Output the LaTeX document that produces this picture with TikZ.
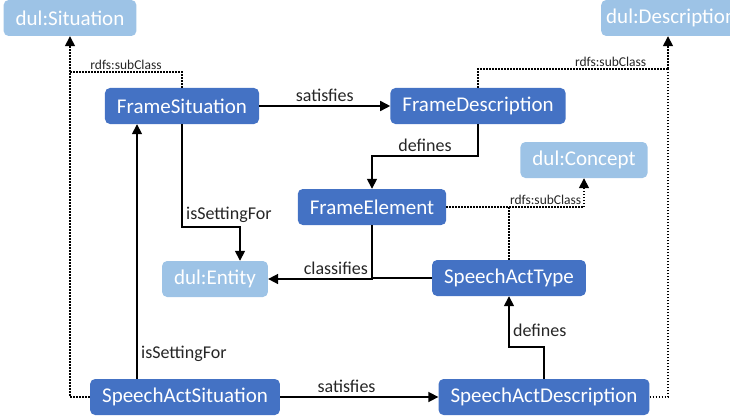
\documentclass[tikz,border=0pt]{standalone}
\usepackage{fontspec}
\setmainfont{Carlito}
\usetikzlibrary{arrows.meta,positioning}
\definecolor{frameblue}{HTML}{4472C4}
\definecolor{dulblue}{HTML}{9DC3E6}

\begin{document}
\begin{tikzpicture}[x=1pt,y=-1pt,on grid,
  cls/.style={rectangle,rounded corners=5pt,fill=frameblue,text=white,
    minimum height=36pt,inner xsep=12pt,font=\fontsize{21}{25}\selectfont},
  dul/.style={cls,fill=dulblue},
  rel/.style={draw,line width=1.6pt,-{Triangle[width=10pt,length=10pt]}},
  sub/.style={draw,line width=1.5pt,dash pattern=on 1.5pt off 1.5pt},
  subarr/.style={sub,-{Triangle[width=10pt,length=10pt]}},
  lbl/.style={font=\fontsize{18}{21}\selectfont,text=black!85},
  sublbl/.style={font=\fontsize{13.5}{16}\selectfont,text=black!85,inner sep=2pt}]
  \useasboundingbox (0,0) rectangle (730,417);
  \clip (0,0) rectangle (730,417);

  % classes
  \node[dul] (sit)  at (70,18)  {dul:Situation};
  \node[dul,anchor=west,inner xsep=5pt] (desc) at (601,18) {dul:Description};
  \node[dul] (con)  at (584,160) {dul:Concept};
  \node[dul] (ent)  at (215,279) {dul:Entity};
  \node[cls] (fs)   at (182,106) {FrameSituation};
  \node[cls] (fd)   [right=296pt of fs] {FrameDescription};
  \node[cls] (fe)   at (372,207) {FrameElement};
  \node[cls] (sat)  at (509,278) {SpeechActType};
  \node[cls] (sas)  at (185,397) {SpeechActSituation};
  \node[cls] (sad)  [right=359pt of sas] {SpeechActDescription};

  % junctions of the subclass lines
  \coordinate (jsit)  at (70,72);
  \coordinate (jdesc) at (668,69);
  \coordinate (jcon)  at (con.south |- fe.east);

  % relations
  \path[rel] (fs) -- node[lbl,midway,above] {satisfies} (fd);
  \path[rel] (fd.south) -- ++(0,32) -| node[lbl,pos=0.25,above] {defines} (fe.north);
  \path[rel] (fs.south) -- ++(0,103) -| node[lbl,pos=0,above right] {isSettingFor} ([xshift=25pt]ent.north);
  \path[rel] (fe.south) |- node[lbl,pos=0.5,above left] {classifies} (ent.east);
  \path[draw,line width=1.6pt] (sat.west) -- (sat.west -| fe.south);
  \path[rel] ([xshift=-48pt]sas.north) -- node[lbl,pos=0.1,right] {isSettingFor} ([xshift=-45pt]fs.south);
  \path[rel] (sas) -- node[lbl,pos=0.42,above] {satisfies} (sad);
  \path[rel] (sad.north) -- ++(0,-32) -| node[lbl,pos=0.5,above right,yshift=6pt] {defines} (sat.south);

  % subclass links
  \path[sub] (fs.north) |- node[sublbl,pos=0.75,above] {rdfs:subClass} (jsit);
  \path[sub] (sas.west) -| (jsit);
  \path[subarr] (jsit) -- (sit.south);
  \path[sub] (fd.north) |- node[sublbl,pos=0.95,above left] {rdfs:subClass} (jdesc);
  \path[sub] (sad.east) -| (jdesc);
  \path[subarr] (jdesc) -- (jdesc |- desc.south);
  \path[sub] (fe.east) -- node[sublbl,pos=1,above left] {rdfs:subClass} (jcon);
  \path[sub] (sat.north) -- (sat.north |- jcon);
  \path[subarr] (jcon) -- (con.south);
\end{tikzpicture}
\end{document}
